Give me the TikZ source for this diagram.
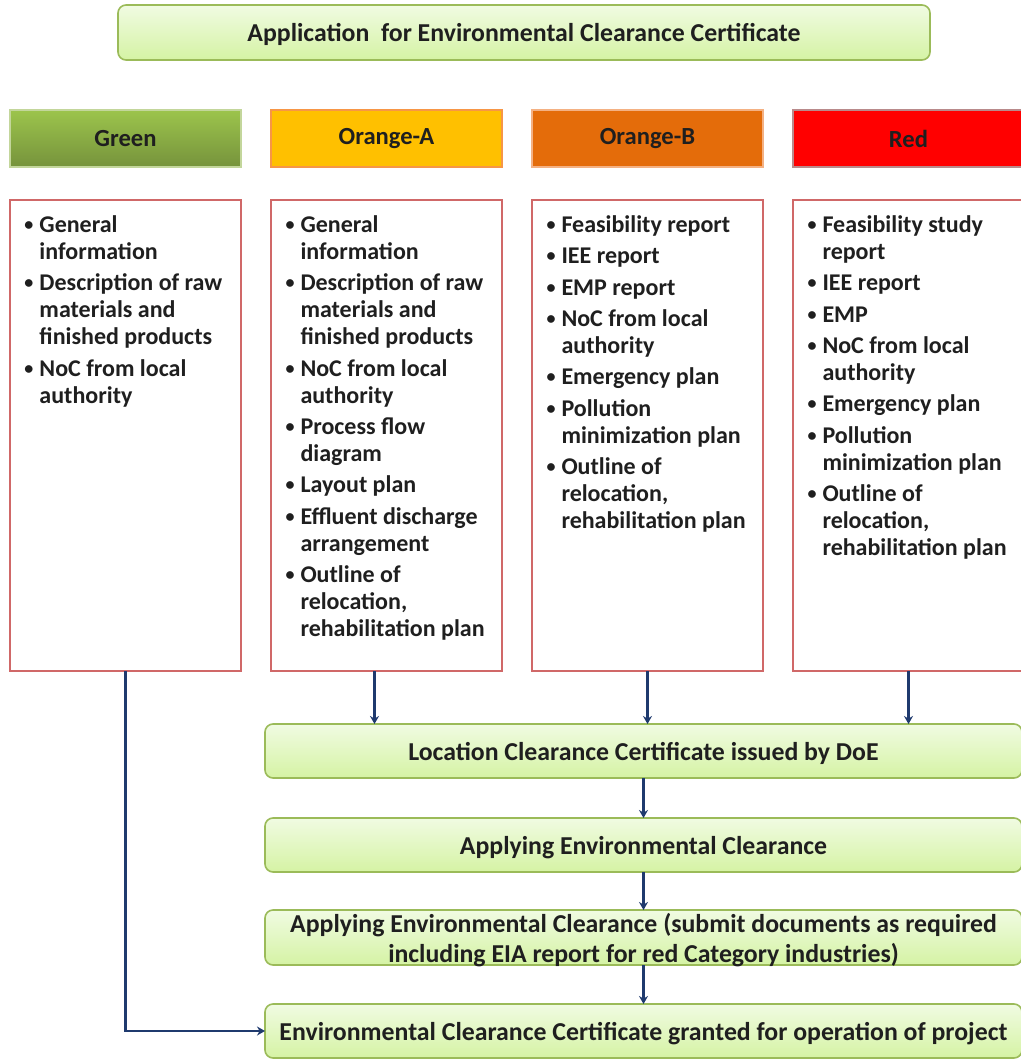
\documentclass[tikz,border=0pt]{standalone}
\usepackage{fontspec}
\setmainfont{Carlito}
\usepackage{xcolor}
\usepackage{tikz}
\usetikzlibrary{positioning,arrows.meta}

\definecolor{navy}{HTML}{1F3A6E}
\definecolor{boxline}{HTML}{9BBB59}
\definecolor{boxtop}{HTML}{F0FBE2}
\definecolor{boxbot}{HTML}{D5F3A4}
\definecolor{listline}{HTML}{D06868}
\definecolor{greentop}{HTML}{9CC44C}
\definecolor{greenbot}{HTML}{76933C}
\definecolor{greenline}{HTML}{C3D69B}
\definecolor{orangeA}{HTML}{FFC000}
\definecolor{orangeAline}{HTML}{F79646}
\definecolor{orangeB}{HTML}{E46C0A}
\definecolor{orangeBline}{HTML}{F4B183}
\definecolor{redhead}{HTML}{FF0000}
\definecolor{redline}{HTML}{B98A8B}

\newcommand\bitem[1]{\par\hangindent=7.5pt\hangafter=1\noindent\makebox[7.5pt][l]{\raisebox{1pt}{\fontsize{9}{9}\selectfont\textbullet}}#1\par\vspace{2.2pt}}
\newcommand\itemlist[1]{\parbox[c][220pt][t]{101pt}{\fontsize{12}{13.5}\selectfont\raggedright #1}}

\begin{document}
\begin{tikzpicture}[
    x=1pt, y=-1pt,
    font=\fontsize{12.9}{15}\selectfont\bfseries,
    text=black!88,
    stepbox/.style={rectangle, draw=boxline, line width=0.8pt, outer sep=0pt, rounded corners=4pt, top color=boxtop, bottom color=boxbot, minimum width=378.5pt, minimum height=27pt, text height=11pt, text depth=1.6pt, align=center},
    hdr/.style={rectangle, line width=0.8pt, outer sep=0pt, minimum width=115.5pt, minimum height=28.5pt, font=\fontsize{12.3}{14}\selectfont\bfseries},
    listbox/.style={rectangle, draw=listline, line width=1pt, outer sep=0pt, fill=white, minimum width=115.5pt, minimum height=235.5pt, inner xsep=7.25pt, inner ysep=7.75pt},
    arrow/.style={-{Stealth[length=4pt,width=4.5pt]}, line width=1.1pt, draw=navy}
]
\useasboundingbox (0,0) rectangle (510.5,529.5);

\node[stepbox, minimum width=406pt, minimum height=27.5pt] (app) at (262,16.25) {Application\ \ for Environmental Clearance Certificate};

\node[hdr, draw=greenline, top color=greentop, bottom color=greenbot] (green) at (62.75,69.25) {Green};
\node[hdr, draw=orangeAline, fill=orangeA, right=15pt of green] (oraA) {Orange-A};
\node[hdr, draw=orangeBline, fill=orangeB, right=15pt of oraA] (oraB) {Orange-B};
\node[hdr, draw=redline, fill=redhead, right=15pt of oraB] (red) {Red};

\node[listbox, below=16.5pt of green] (greenList) {\itemlist{
  \bitem{General\newline information}
  \bitem{Description of raw\newline materials and\newline finished products}
  \bitem{NoC from local\newline authority}}};
\node[listbox, below=16.5pt of oraA] (oraAList) {\itemlist{
  \bitem{General\newline information}
  \bitem{Description of raw\newline materials and\newline finished products}
  \bitem{NoC from local\newline authority}
  \bitem{Process flow\newline diagram}
  \bitem{Layout plan}
  \bitem{Effluent discharge\newline arrangement}
  \bitem{Outline of\newline relocation,\newline rehabilitation plan}}};
\node[listbox, below=16.5pt of oraB] (oraBList) {\itemlist{
  \bitem{Feasibility report}
  \bitem{IEE report}
  \bitem{EMP report}
  \bitem{NoC from local\newline authority}
  \bitem{Emergency plan}
  \bitem{Pollution\newline minimization plan}
  \bitem{Outline of\newline relocation,\newline rehabilitation plan}}};
\node[listbox, below=16.5pt of red] (redList) {\itemlist{
  \bitem{Feasibility study\newline report}
  \bitem{IEE report}
  \bitem{EMP}
  \bitem{NoC from local\newline authority}
  \bitem{Emergency plan}
  \bitem{Pollution\newline minimization plan}
  \bitem{Outline of\newline relocation,\newline rehabilitation plan}}};

\node[stepbox] (loc) at (321.75,375.5) {Location Clearance Certificate issued by DoE};
\node[stepbox, below=20pt of loc] (apply) {Applying Environmental Clearance};
\node[stepbox, below=19pt of apply, inner ysep=0pt, text height=26pt, text depth=1.5pt] (submit) {Applying Environmental Clearance (submit documents as required\\including EIA report for red Category industries)};
\node[stepbox, below=19.5pt of submit] (grant) {Environmental Clearance Certificate granted for operation of project};

\draw[arrow] ([xshift=-6pt]oraAList.south) -- ([xshift=-6pt]oraAList.south |- loc.north);
\draw[arrow] (oraBList.south) -- (oraBList.south |- loc.north);
\draw[arrow] (redList.south) -- (redList.south |- loc.north);
\draw[arrow] (loc) -- (apply);
\draw[arrow] (apply) -- (submit);
\draw[arrow] (submit) -- (grant);
\draw[arrow] (greenList.south) -- (greenList.south |- grant.west) -- (grant.west);
\end{tikzpicture}
\end{document}
